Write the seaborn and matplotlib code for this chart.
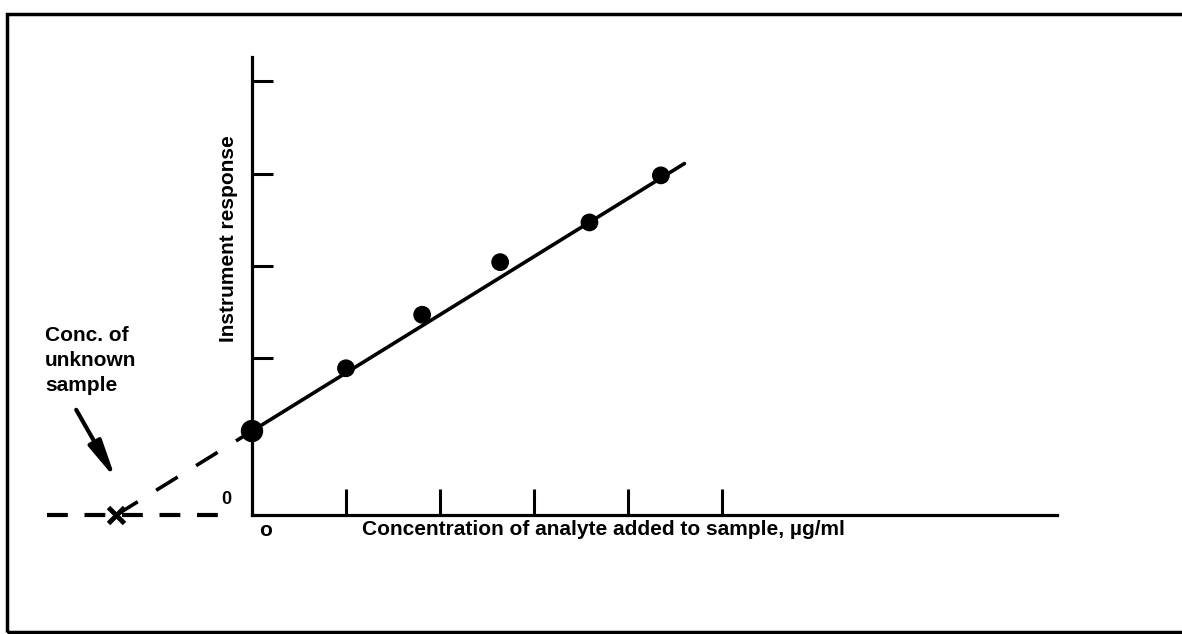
import matplotlib
matplotlib.use("Agg")
import matplotlib.pyplot as plt
from matplotlib.patches import Rectangle
import seaborn as sns
import numpy as np
import pandas as pd

# standard additions data
conc_added = [0.0, 1.0, 1.81, 2.64, 3.59, 4.35]
response = [0.91, 1.59, 2.17, 2.74, 3.17, 3.68]
point_sizes = [230, 140, 140, 140, 140, 140]

fit_intercept = 0.91
fit_slope = 0.63
fit_end = 4.6

x_ticks = [1, 2, 3, 4, 5]
y_ticks = [1.7, 2.7, 3.7, 4.7]

x_label = "Concentration of analyte added to sample, \u00b5g/ml"
y_label = "Instrument response"
note = "Conc. of\nunknown\nsample"

sns.set_style("white")
plt.rcParams["font.family"] = ["Liberation Sans", "DejaVu Sans"]
plt.rcParams["text.color"] = "black"

df = pd.DataFrame({"conc": conc_added, "resp": response, "size": point_sizes})
x_unknown = -fit_intercept / fit_slope
fit_df = pd.DataFrame({"conc": [0.0, fit_end]})
fit_df["resp"] = fit_intercept + fit_slope * fit_df["conc"]

fig = plt.figure(figsize=(11.82, 6.34), dpi=100)
ax = fig.add_axes([0, 0, 1, 1])
ax.set_xlim(-2.681, 9.894)
ax.set_ylim(-1.289, 5.58)

# fitted line and extrapolation
sns.lineplot(data=fit_df, x="conc", y="resp", color="black", lw=2.6, ax=ax)
ax.plot([x_unknown, 0], [0, fit_intercept], color="black", lw=2.6,
        dashes=(7, 6))
ax.plot([-2.18, -0.2], [0, 0], color="black", lw=3, dashes=(5, 4))
ax.plot([x_unknown], [0], marker="x", color="black", ms=11, mew=3.5)

sns.scatterplot(data=df, x="conc", y="resp", size="size", sizes=(140, 230),
                color="black", edgecolor="black", legend=False, ax=ax,
                zorder=5)

# axes drawn through the origin
for s in ["top", "right"]:
    ax.spines[s].set_visible(False)
for s in ["left", "bottom"]:
    ax.spines[s].set_position(("data", 0))
    ax.spines[s].set_linewidth(2.3)
    ax.spines[s].set_color("black")
ax.spines["left"].set_bounds(0, 4.96)
ax.spines["bottom"].set_bounds(0, 8.56)
ax.set_xticks(x_ticks)
ax.set_yticks(y_ticks)
ax.tick_params(axis="x", direction="in", length=19, width=2.2,
               bottom=True, labelbottom=False, color="black")
ax.tick_params(axis="y", direction="in", length=15, width=2.2,
               left=True, labelleft=False, color="black")
ax.set_xlabel("")
ax.set_ylabel("")

ax.text(0.14, -0.17, "o", ha="center", va="center", fontsize=15,
        fontweight="bold")
ax.text(-0.27, 0.17, "0", ha="center", va="center", fontsize=13,
        fontweight="bold")
ax.text(1.17, -0.16, x_label, ha="left", va="center", fontsize=15,
        fontweight="bold")
ax.text(-0.255, 3.0, y_label, ha="center", va="center", rotation=90,
        fontsize=15, fontweight="bold")
ax.text(-2.2, 2.05, note, ha="left", va="top", fontsize=15,
        fontweight="bold", linespacing=1.4)
ax.annotate("", xy=(-1.45, 0.39), xytext=(-1.87, 1.14),
            arrowprops=dict(arrowstyle="-|>,head_length=0.75,head_width=0.14",
                            lw=3.0, color="black", mutation_scale=30,
                            shrinkA=0, shrinkB=0))

fig.patches.append(Rectangle((7 / 1182, 2 / 634), 1.1, 618 / 634,
                             transform=fig.transFigure, fill=False,
                             lw=2.5, edgecolor="black"))

fig.savefig("out.png", dpi=100)
